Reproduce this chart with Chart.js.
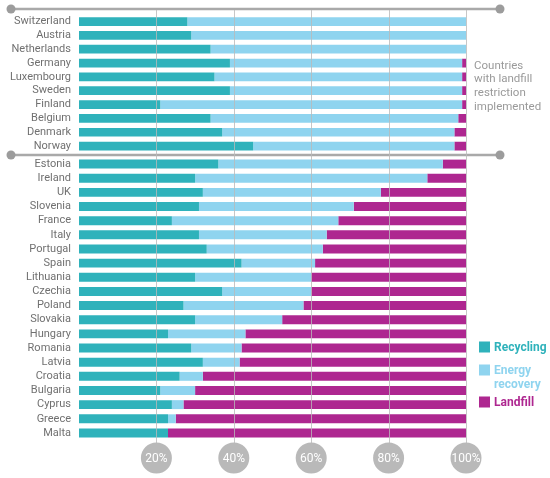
<!DOCTYPE html>
<html>
<head>
<meta charset="utf-8">
<script src="https://cdn.jsdelivr.net/npm/chart.js@4/dist/chart.umd.min.js"></script>
<style>
  html, body { margin: 0; padding: 0; background: #fff; }
  #wrap { position: relative; width: 550px; height: 478px; }
  #wrap canvas { position: absolute; left: 0; top: 0; }
</style>
</head>
<body>
<div id="wrap">
  <canvas id="top-chart" width="550" height="478"></canvas>
  <canvas id="bottom-chart" width="550" height="478"></canvas>
</div>
<script>
// Countries with landfill restriction implemented
const restrictedCountries = ['Switzerland', 'Austria', 'Netherlands', 'Germany', 'Luxembourg',
  'Sweden', 'Finland', 'Belgium', 'Denmark', 'Norway'];
const restrictedRecycling = [28, 29, 34, 39, 35, 39, 21, 34, 37, 45];
const restrictedEnergy = [72, 71, 66, 60, 64, 60, 78, 64, 60, 52];
const restrictedLandfill = [0, 0, 0, 1, 1, 1, 1, 2, 3, 3];

// Other countries
const otherCountries = ['Estonia', 'Ireland', 'UK', 'Slovenia', 'France', 'Italy', 'Portugal',
  'Spain', 'Lithuania', 'Czechia', 'Poland', 'Slovakia', 'Hungary', 'Romania', 'Latvia',
  'Croatia', 'Bulgaria', 'Cyprus', 'Greece', 'Malta'];
const otherRecycling = [36, 30, 32, 31, 24, 31, 33, 42, 30, 37, 27, 30, 23, 29, 32, 26, 21, 24, 23, 23];
const otherEnergy = [58, 60, 46, 40, 43, 33, 30, 19, 30, 23, 31, 22.5, 20, 13, 9.5, 6, 9, 3, 2, 0];
const otherLandfill = [6, 10, 22, 29, 33, 36, 37, 39, 40, 40, 42, 47.5, 57, 58, 58.5, 68, 70, 73, 75, 77];

const seriesNames = ['Recycling', 'Energy recovery', 'Landfill'];
const legendLines = [['Recycling'], ['Energy', 'recovery'], ['Landfill']];
const xTicks = [20, 40, 60, 80, 100];
const noteLines = ['Countries', 'with landfill', 'restriction', 'implemented'];

const colors = ['#2fb2bb', '#8fd4ef', '#ae2790'];
const FONT = 'Roboto, "Noto Sans", sans-serif';

// Horizontal rule with round ends
function drawRule(ctx, y) {
    ctx.save();
    ctx.strokeStyle = '#a9a9a9';
    ctx.lineWidth = 2.5;
    ctx.beginPath();
    ctx.moveTo(11, y);
    ctx.lineTo(500, y);
    ctx.stroke();
    ctx.fillStyle = '#9c9c9c';
    [11, 500].forEach(x => {
        ctx.beginPath();
        ctx.arc(x, y, 4.5, 0, Math.PI * 2);
        ctx.fill();
    });
    ctx.restore();
}

const topDecor = {
    id: 'topDecor',
    afterDraw(chart) {
        const ctx = chart.ctx;
        drawRule(ctx, 9);
        ctx.save();
        ctx.fillStyle = '#9a9a9a';
        ctx.font = '11.5px ' + FONT;
        ctx.textAlign = 'left';
        ctx.textBaseline = 'middle';
        noteLines.forEach((line, i) => ctx.fillText(line, 474, 66 + i * 13.6));
        ctx.restore();
    }
};

const bottomDecor = {
    id: 'bottomDecor',
    afterDraw(chart) {
        const ctx = chart.ctx;
        const xScale = chart.scales.x;
        drawRule(ctx, 155);

        // vertical grid lines, drawn over the bars
        ctx.save();
        ctx.strokeStyle = 'rgba(185,185,185,0.8)';
        ctx.lineWidth = 1;
        xTicks.forEach(v => {
            const x = Math.round(xScale.getPixelForValue(v)) + 0.5;
            ctx.beginPath();
            ctx.moveTo(x, 10);
            ctx.lineTo(x, 450);
            ctx.stroke();
        });

        // round tick badges
        ctx.font = '12px ' + FONT;
        ctx.textAlign = 'center';
        ctx.textBaseline = 'middle';
        xTicks.forEach(v => {
            const x = xScale.getPixelForValue(v);
            ctx.fillStyle = '#b9b9b9';
            ctx.beginPath();
            ctx.arc(x, 458, 15.5, 0, Math.PI * 2);
            ctx.fill();
            ctx.fillStyle = '#ffffff';
            ctx.fillText(v + '%', x, 459);
        });

        // legend
        const legendY = [347, 370, 402];
        ctx.textAlign = 'left';
        ctx.font = 'bold 12px ' + FONT;
        chart.data.datasets.forEach((ds, i) => {
            const y = legendY[i];
            ctx.fillStyle = ds.backgroundColor;
            ctx.fillRect(479, y - 5.5, 11, 11);
            legendLines[i].forEach((line, j) => ctx.fillText(line, 494, y + 1 + j * 14));
        });
        ctx.restore();
    }
};

function makeChart(canvasId, labels, rec, energy, landfill, padTop, padBottom, plugin) {
    const values = [rec, energy, landfill];
    return new Chart(document.getElementById(canvasId), {
        type: 'bar',
        data: {
            labels,
            datasets: seriesNames.map((name, i) => ({
                label: name,
                data: values[i],
                backgroundColor: colors[i],
                barPercentage: 0.63,
                categoryPercentage: 1
            }))
        },
        options: {
            indexAxis: 'y',
            responsive: false,
            animation: false,
            layout: { padding: { top: padTop, bottom: padBottom, left: 0, right: 84 } },
            plugins: { legend: { display: false }, tooltip: { enabled: false } },
            scales: {
                x: { stacked: true, min: 0, max: 100, display: false },
                y: {
                    stacked: true,
                    grid: { display: false, drawTicks: false },
                    border: { display: false },
                    ticks: {
                        autoSkip: false,
                        color: '#707070',
                        padding: 8,
                        font: { family: FONT, size: 11 }
                    },
                    afterFit: scale => { scale.width = 79; }
                }
            }
        },
        plugins: [plugin]
    });
}

makeChart('top-chart', restrictedCountries, restrictedRecycling, restrictedEnergy, restrictedLandfill, 12, 325, topDecor);
makeChart('bottom-chart', otherCountries, otherRecycling, otherEnergy, otherLandfill, 157, 38, bottomDecor);
</script>
</body>
</html>
